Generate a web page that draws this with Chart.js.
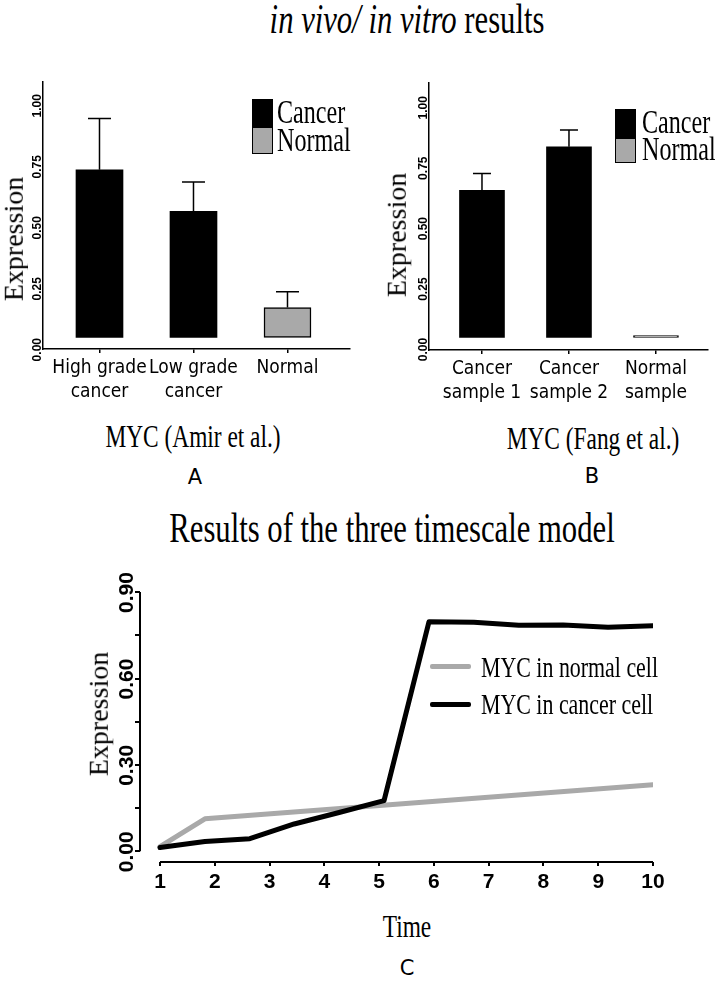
<!DOCTYPE html>
<html>
<head>
<meta charset="utf-8">
<title>MYC expression</title>
<script src="https://cdn.jsdelivr.net/npm/chart.js@4.4.1/dist/chart.umd.min.js"></script>
<style>
  body { margin: 0; width: 715px; height: 982px; background: #fff; position: relative; overflow: hidden; color: #000; font-family: 'Liberation Serif', 'Times New Roman', serif; }
  .box { position: absolute; }
  .t { position: absolute; white-space: nowrap; line-height: 1; transform: translate(-50%, -50%) scaleX(0.73); }
  .l { position: absolute; white-space: nowrap; line-height: 1; transform-origin: 0 50%; transform: translateY(-50%) scaleX(0.73); }
  .v { position: absolute; white-space: nowrap; line-height: 1; font-size: 28px; transform: translate(-50%, -50%) scaleX(0.95) rotate(-90deg); }
  .s { font-family: 'DejaVu Sans', sans-serif; font-size: 21px; transform: translate(-50%, -50%); }
  .key { position: absolute; box-sizing: border-box; }
</style>
</head>
<body>

<div class="t" style="left:407px; top:19px; font-size:42px;"><i>in vivo/ in vitro</i> results</div>

<div class="box" style="left:0; top:70px; width:360px; height:340px;"><canvas id="chartA"></canvas></div>
<div class="box" style="left:365px; top:70px; width:350px; height:340px;"><canvas id="chartB"></canvas></div>
<div class="box" style="left:0; top:560px; width:715px; height:340px;"><canvas id="chartC"></canvas></div>

<!-- panel A labels -->
<div class="v" style="left:14px; top:239px;">Expression</div>
<div class="key" style="left:252px; top:99px; width:21px; height:28px; background:#000;"></div>
<div class="key" style="left:252px; top:127px; width:21px; height:27px; background:#a9a9a9; border:1.5px solid #000;"></div>
<div class="l" style="left:277px; top:112px; font-size:33px;">Cancer</div>
<div class="l" style="left:277px; top:140px; font-size:33px;">Normal</div>
<div class="t" style="left:193px; top:436px; font-size:32px;">MYC (Amir et al.)</div>
<div class="t s" style="left:195px; top:477px;">A</div>

<!-- panel B labels -->
<div class="v" style="left:397px; top:235px;">Expression</div>
<div class="key" style="left:615px; top:109px; width:21px; height:29px; background:#000;"></div>
<div class="key" style="left:615px; top:138px; width:21px; height:25px; background:#a9a9a9; border:1.5px solid #000;"></div>
<div class="l" style="left:642px; top:122px; font-size:33px;">Cancer</div>
<div class="l" style="left:642px; top:149px; font-size:33px;">Normal</div>
<div class="t" style="left:593px; top:438px; font-size:32px;">MYC (Fang et al.)</div>
<div class="t s" style="left:592px; top:476px;">B</div>

<!-- panel C labels -->
<div class="t" style="left:392px; top:528px; font-size:42px;">Results of the three timescale model</div>
<div class="v" style="left:99px; top:714px;">Expression</div>
<div class="key" style="left:430px; top:664px; width:41px; height:5px; background:#a9a9a9; border-radius:2px;"></div>
<div class="key" style="left:430px; top:702px; width:41px; height:5px; background:#000; border-radius:2px;"></div>
<div class="l" style="left:481px; top:667px; font-size:30px;">MYC in normal cell</div>
<div class="l" style="left:481px; top:704px; font-size:30px;">MYC in cancer cell</div>
<div class="t" style="left:407px; top:926px; font-size:32px;">Time</div>
<div class="t s" style="left:407px; top:968px;">C</div>

<script>
// panel A: Amir et al.
const catsA = [['High grade', 'cancer'], ['Low grade', 'cancer'], 'Normal'];
const valsA = [0.69, 0.52, 0.125];
const errA = [0.90, 0.64, 0.19];
const kindA = ['Cancer', 'Cancer', 'Normal'];

// panel B: Fang et al.
const catsB = [['Cancer', 'sample 1'], ['Cancer', 'sample 2'], ['Normal', 'sample']];
const valsB = [0.61, 0.79, 0.01];
const errB = [0.68, 0.86, null];
const kindB = ['Cancer', 'Cancer', 'Normal'];

const barTicks = [0, 0.25, 0.5, 0.75, 1];

// panel C: three timescale model
const timesCancer = [1, 1.82, 2.64, 3.45, 4.27, 5.09, 5.91, 6.73, 7.55, 8.36, 9.18, 10];
const cancerVals = [0.013, 0.034, 0.044, 0.095, 0.135, 0.176, 0.797, 0.795, 0.785, 0.786, 0.778, 0.783];
const timesNormal = [1, 1.82, 10];
const normalVals = [0.016, 0.113, 0.231];
const timeTicks = [1, 2, 3, 4, 5, 6, 7, 8, 9, 10];
const exprTicks = [0, 0.15, 0.30, 0.45, 0.60, 0.75, 0.90];

const kindColor = { Cancer: '#000000', Normal: '#a9a9a9' };

Chart.defaults.color = '#000';
Chart.defaults.animation = false;

// error bars on top of the bars
const errorBars = {
  id: 'errorBars',
  afterDatasetsDraw(chart, args, opts) {
    if (!opts.values) return;
    const ctx = chart.ctx;
    const y = chart.scales.y;
    ctx.save();
    ctx.strokeStyle = '#000';
    ctx.lineWidth = 1.5;
    chart.getDatasetMeta(0).data.forEach((bar, i) => {
      const e = opts.values[i];
      if (e == null) return;
      const top = y.getPixelForValue(e);
      ctx.beginPath();
      ctx.moveTo(bar.x, bar.y);
      ctx.lineTo(bar.x, top);
      ctx.moveTo(bar.x - opts.cap / 2, top);
      ctx.lineTo(bar.x + opts.cap / 2, top);
      ctx.stroke();
    });
    ctx.restore();
  }
};

// R style axes that only run from first to last tick
const rangeAxes = {
  id: 'rangeAxes',
  afterDraw(chart, args, opts) {
    if (!opts.on) return;
    const {ctx, chartArea, scales} = chart;
    ctx.save();
    ctx.strokeStyle = '#000';
    ctx.lineWidth = 2;
    ctx.beginPath();
    ctx.moveTo(chartArea.left, scales.y.getPixelForValue(exprTicks[0]));
    ctx.lineTo(chartArea.left, scales.y.getPixelForValue(exprTicks[exprTicks.length - 1]));
    ctx.moveTo(scales.x.getPixelForValue(timeTicks[0]), chartArea.bottom);
    ctx.lineTo(scales.x.getPixelForValue(timeTicks[timeTicks.length - 1]), chartArea.bottom);
    ctx.stroke();
    ctx.restore();
  }
};

function barChart(id, cats, vals, errs, kinds, s) {
  return new Chart(document.getElementById(id), {
    type: 'bar',
    data: {
      datasets: [{
        data: vals.map((v, i) => ({x: i + 1, y: v})),
        backgroundColor: kinds.map(k => kindColor[k]),
        borderColor: '#000',
        borderWidth: kinds.map(k => k === 'Normal' ? 1.5 : 0),
        borderSkipped: false,
        barThickness: s.bar
      }]
    },
    options: {
      responsive: true,
      maintainAspectRatio: false,
      layout: { padding: { top: s.top, right: s.right, left: 0, bottom: 0 } },
      plugins: {
        legend: { display: false },
        tooltip: { enabled: false },
        errorBars: { values: errs, cap: s.cap }
      },
      scales: {
        x: {
          type: 'linear',
          offset: false,
          min: s.xmin,
          max: s.xmax,
          afterBuildTicks: a => { a.ticks = cats.map((c, i) => ({value: i + 1})); },
          afterFit: a => { a.height = s.xh; },
          grid: { offset: false, drawOnChartArea: false, tickLength: 4, color: '#000', lineWidth: 1.5 },
          border: { color: '#000', width: 1.5 },
          ticks: {
            autoSkip: false,
            maxRotation: 0,
            padding: 3,
            font: { family: "'DejaVu Sans Condensed', 'DejaVu Sans', sans-serif", size: 19, lineHeight: 1.25 },
            callback: v => cats[v - 1]
          }
        },
        y: {
          min: s.ymin,
          max: s.ymax,
          afterBuildTicks: a => { a.ticks = barTicks.map(v => ({value: v})); },
          afterFit: a => { a.width = s.yw; },
          grid: { drawOnChartArea: false, drawTicks: false },
          border: { color: '#000', width: 1.5 },
          ticks: {
            minRotation: 90,
            maxRotation: 90,
            padding: 5,
            font: { family: "'Liberation Sans', Arial, sans-serif", size: 12, weight: 'bold' },
            callback: v => v.toFixed(2)
          }
        }
      }
    },
    plugins: [errorBars]
  });
}

barChart('chartA', catsA, valsA, errA, kindA,
  { bar: 47, cap: 23, top: 10, right: 10, xh: 61, yw: 43, xmin: 0.399, xmax: 3.665, ymin: -0.045, ymax: 1.049 });
barChart('chartB', catsB, valsB, errB, kindB,
  { bar: 45, cap: 18, top: 13, right: 7, xh: 60, yw: 64, xmin: 0.391, xmax: 3.598, ymin: -0.05, ymax: 1.054 });

new Chart(document.getElementById('chartC'), {
  type: 'line',
  data: {
    datasets: [
      {
        label: 'MYC in cancer cell',
        data: timesCancer.map((t, i) => ({x: t, y: cancerVals[i]})),
        borderColor: '#000',
        borderWidth: 5
      },
      {
        label: 'MYC in normal cell',
        data: timesNormal.map((t, i) => ({x: t, y: normalVals[i]})),
        borderColor: '#a9a9a9',
        borderWidth: 5
      }
    ]
  },
  options: {
    responsive: true,
    maintainAspectRatio: false,
    layout: { padding: { top: 18, right: 62, left: 0, bottom: 0 } },
    elements: {
      point: { radius: 0 },
      line: { tension: 0, borderJoinStyle: 'round', borderCapStyle: 'round' }
    },
    plugins: {
      legend: { display: false },
      tooltip: { enabled: false },
      rangeAxes: { on: true }
    },
    scales: {
      x: {
        type: 'linear',
        min: 0.635,
        max: 10,
        afterBuildTicks: a => { a.ticks = timeTicks.map(v => ({value: v})); },
        afterFit: a => { a.height = 38; },
        grid: { drawOnChartArea: false, tickLength: 4, color: '#000', lineWidth: 2 },
        border: { display: false },
        ticks: {
          padding: 4,
          font: { family: "'Liberation Sans Narrow', 'Liberation Sans', Arial, sans-serif", size: 21, weight: 'bold' },
          callback: v => String(v)
        }
      },
      y: {
        min: -0.037,
        max: 0.94,
        afterBuildTicks: a => { a.ticks = exprTicks.map(v => ({value: v})); },
        afterFit: a => { a.width = 140; },
        grid: { drawOnChartArea: false, tickLength: 5, color: '#000', lineWidth: 2 },
        border: { display: false },
        ticks: {
          minRotation: 90,
          maxRotation: 90,
          padding: 8,
          labelOffset: -20,
          font: { family: "'Liberation Sans', Arial, sans-serif", size: 21, weight: 'bold' },
          callback: v => (Math.round(v * 100) % 30 === 0 ? v.toFixed(2) : '')
        }
      }
    }
  },
  plugins: [rangeAxes]
});
</script>
</body>
</html>
